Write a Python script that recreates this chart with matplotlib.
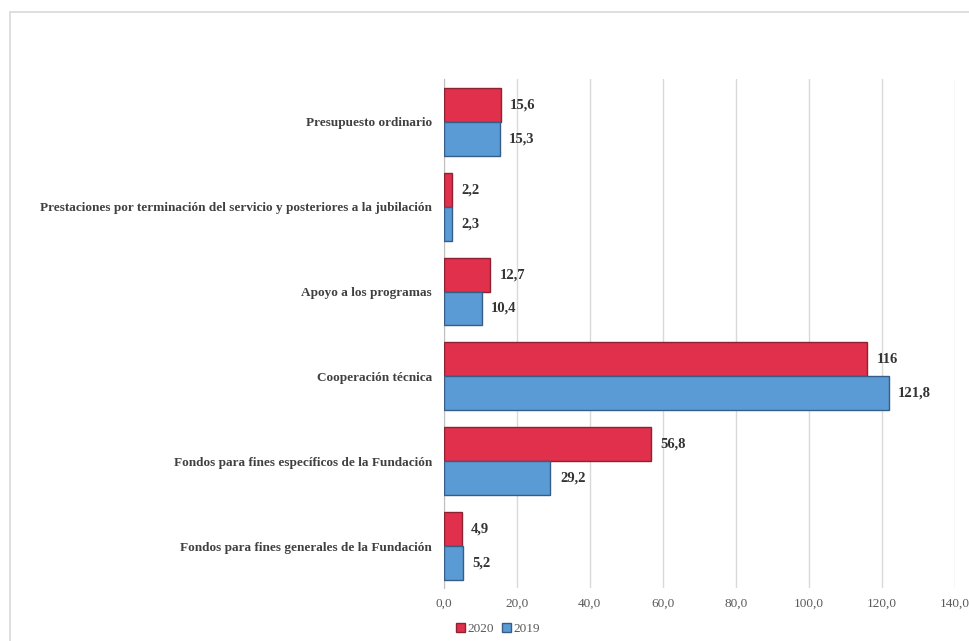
import numpy as np
import matplotlib.pyplot as plt
from matplotlib.patches import Rectangle

categorias = ['Presupuesto ordinario',
              'Prestaciones por terminación del servicio y posteriores a la jubilación',
              'Apoyo a los programas',
              'Cooperación técnica',
              'Fondos para fines específicos de la Fundación',
              'Fondos para fines generales de la Fundación']
v2020 = [15.6, 2.2, 12.7, 116, 56.8, 4.9]
v2019 = [15.3, 2.3, 10.4, 121.8, 29.2, 5.2]
etiq2020 = ['15,6', '2,2', '12,7', '116', '56,8', '4,9']
etiq2019 = ['15,3', '2,3', '10,4', '121,8', '29,2', '5,2']

plt.rcParams['font.family'] = ['Liberation Serif', 'DejaVu Serif']

fig = plt.figure(figsize=(9.69, 6.41), dpi=100)
fig.patches.append(Rectangle((10 / 969, -0.1), 1.1, 1 - 12 / 641 + 0.1,
                             transform=fig.transFigure, fill=False,
                             edgecolor='#d9d9d9', linewidth=1.2))
ax = fig.add_axes([0.458, 0.082, 0.5275, 0.794])

y = np.arange(len(categorias))[::-1].astype(float)
h = 0.4
rojo = '#e0304b'
azul = '#5b9bd5'
b1 = ax.barh(y + h / 2, v2020, height=h, color=rojo, edgecolor='#8c2232',
             linewidth=1.0, label='2020', zorder=3)
b2 = ax.barh(y - h / 2, v2019, height=h, color=azul, edgecolor='#355d87',
             linewidth=1.0, label='2019', zorder=3)
for bar, t in zip(b1, etiq2020):
    ax.text(bar.get_width() + 2.6, bar.get_y() + bar.get_height() / 2, t,
            va='center', ha='left', fontsize=10.5, fontweight='bold', color='#333333')
for bar, t in zip(b2, etiq2019):
    ax.text(bar.get_width() + 2.6, bar.get_y() + bar.get_height() / 2, t,
            va='center', ha='left', fontsize=10.5, fontweight='bold', color='#333333')

ax.set_xlim(0, 140)
ax.set_ylim(-0.5, len(categorias) - 0.5)
ax.set_xticks(np.arange(0, 141, 20))
ax.set_xticklabels(['%d,0' % v for v in range(0, 141, 20)], fontsize=9.5, color='#595959')
ax.set_yticks(y)
ax.set_yticklabels(categorias, fontsize=9.5, fontweight='bold', color='#404040')
ax.tick_params(axis='x', length=0, pad=7)
ax.tick_params(axis='y', length=0, pad=8.5)
ax.grid(axis='x', color='#d9d9d9', linewidth=1, zorder=0)
for s in ['top', 'right', 'bottom']:
    ax.spines[s].set_visible(False)
ax.spines['left'].set_color('#bfbfbf')

ax.legend(loc='upper left', bbox_to_anchor=(0.0, -0.045), ncol=2, frameon=False,
          fontsize=9.5, handlelength=0.7, handleheight=0.7, handletextpad=0.2,
          columnspacing=0.6, labelcolor='#595959')

fig.savefig('out.png', dpi=100)
